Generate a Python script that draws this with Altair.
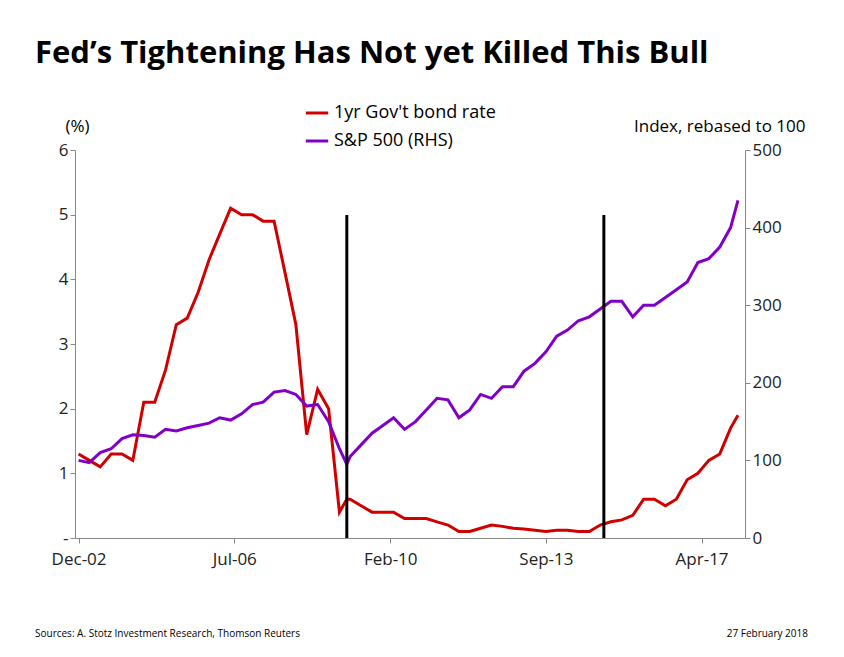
import pandas as pd
import altair as alt

dates = ["2002-12", "2003-03", "2003-06", "2003-09", "2003-12", "2004-03", "2004-06", "2004-09",
         "2004-12", "2005-03", "2005-06", "2005-09", "2005-12", "2006-03", "2006-06", "2006-09",
         "2006-12", "2007-03", "2007-06", "2007-09", "2007-12", "2008-03", "2008-06", "2008-09",
         "2008-12", "2009-02", "2009-03", "2009-06", "2009-09", "2009-12", "2010-03", "2010-06",
         "2010-09", "2010-12", "2011-03", "2011-06", "2011-09", "2011-12", "2012-03", "2012-06",
         "2012-09", "2012-12", "2013-03", "2013-06", "2013-09", "2013-12", "2014-03", "2014-06",
         "2014-09", "2014-12", "2015-03", "2015-06", "2015-09", "2015-12", "2016-03", "2016-06",
         "2016-09", "2016-12", "2017-03", "2017-06", "2017-09", "2017-12", "2018-02"]
bond_rate = [1.3, 1.2, 1.1, 1.3, 1.3, 1.2, 2.1, 2.1, 2.6, 3.3, 3.4, 3.8, 4.3, 4.7, 5.1, 5.0,
             5.0, 4.9, 4.9, 4.1, 3.3, 1.6, 2.3, 2.0, 0.4, 0.6, 0.6, 0.5, 0.4, 0.4, 0.4, 0.3,
             0.3, 0.3, 0.25, 0.2, 0.1, 0.1, 0.15, 0.2, 0.18, 0.15, 0.14, 0.12, 0.1, 0.12, 0.12, 0.1,
             0.1, 0.2, 0.25, 0.28, 0.35, 0.6, 0.6, 0.5, 0.6, 0.9, 1.0, 1.2, 1.3, 1.7, 1.9]
sp500 = [100, 97, 110, 115, 128, 133, 132, 130, 140, 138, 142, 145, 148, 155, 152, 160,
         172, 175, 188, 190, 185, 170, 172, 150, 115, 95, 105, 120, 135, 145, 155, 140,
         150, 165, 180, 178, 155, 165, 185, 180, 195, 195, 215, 225, 240, 260, 268, 280,
         285, 295, 305, 305, 285, 300, 300, 310, 320, 330, 355, 360, 375, 400, 435]
tightening = ["2009-02-01", "2015-01-01"]
tick_dates = ["2002-12-01", "2006-07-01", "2010-02-01", "2013-09-01", "2017-04-01"]
series_names = ["1yr Gov't bond rate", "S&P 500 (RHS)"]

df_rate = pd.DataFrame({"date": dates, "value": bond_rate, "series": series_names[0]})
df_sp = pd.DataFrame({"date": dates, "value": sp500, "series": series_names[1]})
df_rules = pd.DataFrame({"date": tightening})

font = "Open Sans"
color = alt.Color("series:N", scale=alt.Scale(domain=series_names, range=["#d00000", "#8000c8"]),
                  legend=alt.Legend(title=None, orient="none", legendX=229, legendY=-50,
                                    labelFontSize=18, labelFont=font, labelLimit=400,
                                    symbolType="stroke", symbolStrokeWidth=3, symbolSize=500,
                                    rowPadding=6))
x = alt.X("date:T", title=None,
          scale=alt.Scale(domain=["2002-11-01", "2018-04-01"]),
          axis=alt.Axis(values=tick_dates, format="%b-%y", labelFontSize=17, labelFont=font,
                        grid=False, domainColor="#888", tickColor="#888", labelPadding=8,
                        labelColor="#222"))

rate = alt.Chart(df_rate).mark_line(strokeWidth=3).encode(
    x=x,
    y=alt.Y("value:Q", scale=alt.Scale(domain=[0, 6]), title="(%)",
            axis=alt.Axis(orient="left", values=[0, 1, 2, 3, 4, 5, 6], grid=False,
                          labelExpr="datum.value == 0 ? '-' : datum.label",
                          labelFontSize=17, labelFont=font, labelColor="#222",
                          domainColor="#888", tickColor="#888", titleAngle=0,
                          titleFontSize=17, titleFont=font, titleFontWeight="normal",
                          titleY=-15, titleX=-10, titleAlign="left")),
    color=color)

sp = alt.Chart(df_sp).mark_line(strokeWidth=3).encode(
    x=x,
    y=alt.Y("value:Q", scale=alt.Scale(domain=[0, 500]), title="Index, rebased to 100",
            axis=alt.Axis(orient="right", values=[0, 100, 200, 300, 400, 500], grid=False,
                          labelFontSize=17, labelFont=font, labelColor="#222",
                          domainColor="#888", tickColor="#888", titleAngle=0,
                          titleFontSize=17, titleFont=font, titleFontWeight="normal",
                          titleY=-15, titleX=60, titleAlign="right")),
    color=color)

rules = alt.Chart(df_rules).mark_rule(color="black", strokeWidth=3).encode(
    x="date:T", y=alt.value(65), y2=alt.value(388))

footer = alt.Chart(pd.DataFrame({"t": ["Sources: A. Stotz Investment Research, Thomson Reuters"]})).mark_text(
    align="left", fontSize=10, font=font).encode(text="t:N", x=alt.value(-40), y=alt.value(484))
date_note = alt.Chart(pd.DataFrame({"t": ["27 February 2018"]})).mark_text(
    align="right", fontSize=10, font=font).encode(text="t:N", x=alt.value(733), y=alt.value(484))

chart = alt.layer(rate, sp, rules, footer, date_note).resolve_scale(y="independent").properties(
    width=670, height=388,
    autosize=alt.AutoSizeParams(type="none"),
    padding={"left": 67, "top": 142, "right": 90, "bottom": 110},
    title=alt.TitleParams("Fed’s Tightening Has Not yet Killed This Bull", anchor="start",
                          fontSize=31, font=font, fontWeight="bold", offset=30, dx=0)
).configure_view(stroke=None)

chart.save("out.html", embed_options={"renderer": "svg", "actions": False})
